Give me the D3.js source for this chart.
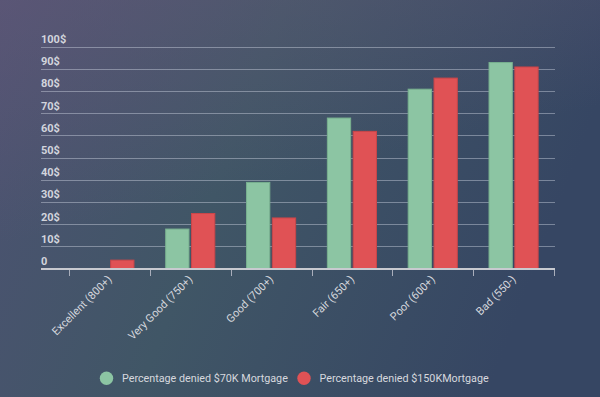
<!DOCTYPE html>
<html>
<head>
<meta charset="utf-8">
<script src="https://cdn.jsdelivr.net/npm/d3@7"></script>
<style>
  html, body { margin: 0; padding: 0; overflow: hidden; }
  body { width: 600px; height: 397px; }
  text { font-family: Roboto, "Open Sans", sans-serif; }
</style>
</head>
<body>
<svg id="chart" width="600" height="397"></svg>
<script>
const categories = ["Excellent (800+)", "Very Good (750+)", "Good (700+)", "Fair (650+)", "Poor (600+)", "Bad (550-)"];
const seriesNames = ["Percentage denied $70K Mortgage", "Percentage denied $150KMortgage"];
const values70K = [0, 18, 39, 68, 81, 93];
const values150K = [4, 25, 23, 62, 86, 91];
const yTicks = [0, 10, 20, 30, 40, 50, 60, 70, 80, 90, 100];
const colors = ["#8cc5a3", "#e05255"];
const strokes = ["#78b08f", "#c94649"];

const svg = d3.select("#chart");
const W = 600, H = 397;

// background
const defs = svg.append("defs");
const g1 = defs.append("linearGradient").attr("id", "bgH")
  .attr("x1", "0").attr("y1", "0").attr("x2", "1").attr("y2", "0.25");
g1.append("stop").attr("offset", "0").attr("stop-color", "#4d5272");
g1.append("stop").attr("offset", "0.45").attr("stop-color", "#405666");
g1.append("stop").attr("offset", "1").attr("stop-color", "#364663");
const g2 = defs.append("linearGradient").attr("id", "bgV")
  .attr("x1", "0").attr("y1", "0").attr("x2", "0.35").attr("y2", "1");
g2.append("stop").attr("offset", "0").attr("stop-color", "#6a5a7a").attr("stop-opacity", 0.45);
g2.append("stop").attr("offset", "0.55").attr("stop-color", "#6a5a7a").attr("stop-opacity", 0);
svg.append("rect").attr("width", W).attr("height", H).attr("fill", "url(#bgH)");
svg.append("rect").attr("width", W).attr("height", H).attr("fill", "url(#bgV)");

const gridLeft = 41, gridRight = 555;
const x0 = d3.scaleBand().domain(categories).range([69, 554]).padding(0);
const x1 = d3.scaleBand().domain(seriesNames)
  .range([x0.bandwidth() * 0.19, x0.bandwidth() * 0.81]).paddingInner(0.06);
const y = d3.scaleLinear().domain([0, 100]).range([268.5, 46.5]);

// gridlines
svg.append("g").selectAll("line").data(yTicks.filter(d => d > 0)).join("line")
  .attr("x1", gridLeft).attr("x2", gridRight)
  .attr("y1", d => Math.round(y(d)) + 0.5).attr("y2", d => Math.round(y(d)) + 0.5)
  .attr("stroke", "rgba(205,210,225,0.45)").attr("stroke-width", 1);

// y labels
svg.append("g").selectAll("text").data(yTicks).join("text")
  .attr("x", gridLeft).attr("y", d => y(d) - 3.5)
  .attr("fill", "#d2d4dc").attr("font-size", "11px").attr("font-weight", "bold")
  .text(d => d === 0 ? "0" : d + "$");

// bars
const data = categories.map((c, i) => ({ cat: c, vals: [values70K[i], values150K[i]] }));
const groups = svg.append("g").selectAll("g").data(data).join("g")
  .attr("transform", d => `translate(${x0(d.cat)},0)`);
groups.selectAll("rect").data(d => d.vals.map((v, j) => ({ s: seriesNames[j], v, j })).filter(e => e.v > 0))
  .join("rect")
  .attr("x", e => x1(e.s) + 0.5).attr("width", x1.bandwidth() - 1)
  .attr("y", e => y(e.v) + 0.5).attr("height", e => y(0) - y(e.v) - 0.5)
  .attr("fill", e => colors[e.j]).attr("stroke", e => strokes[e.j]).attr("stroke-width", 1);

// x axis
const ax = svg.append("g");
ax.append("line").attr("x1", gridLeft).attr("x2", gridRight)
  .attr("y1", y(0) + 0.5).attr("y2", y(0) + 0.5)
  .attr("stroke", "#c8cad0").attr("stroke-width", 2);
const tickPos = categories.map(c => x0(c)).concat([x0.range()[1]]);
ax.selectAll("line.tick").data(tickPos).join("line").attr("class", "tick")
  .attr("x1", d => Math.round(d) + 0.5).attr("x2", d => Math.round(d) + 0.5)
  .attr("y1", y(0) + 1.5).attr("y2", y(0) + 7.5)
  .attr("stroke", "#a9aebb").attr("stroke-width", 1);
ax.selectAll("text").data(categories).join("text")
  .attr("transform", c => `translate(${x0(c) + x0.bandwidth() / 2 + 3},${280}) rotate(-45)`)
  .attr("text-anchor", "end")
  .attr("fill", "#d6d8de").attr("font-size", "11px")
  .text(c => c);

// legend
const legend = svg.append("g");
const legItems = [{ x: 106.5, tx: 122 }, { x: 304, tx: 319.5 }];
seriesNames.forEach((s, i) => {
  legend.append("circle").attr("cx", legItems[i].x).attr("cy", 378.3).attr("r", 6.7).attr("fill", colors[i]);
  legend.append("text").attr("x", legItems[i].tx).attr("y", 382.3)
    .attr("fill", "#d6d8de").attr("font-size", "10.75px").text(s);
});
</script>
</body>
</html>
